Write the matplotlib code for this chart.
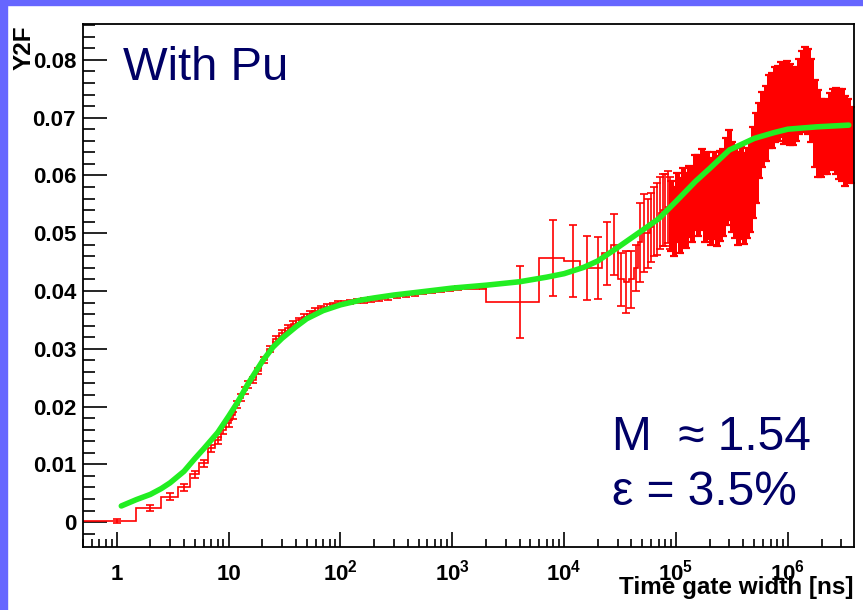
import matplotlib
matplotlib.use('Agg')
import numpy as np
from matplotlib import pyplot as plt
from matplotlib.patches import Rectangle
from matplotlib.ticker import FixedLocator, NullFormatter

plt.rcParams['font.family'] = ['Liberation Sans', 'DejaVu Sans']
plt.rcParams['mathtext.fontset'] = 'custom'
plt.rcParams['mathtext.rm'] = 'Liberation Sans'
plt.rcParams['mathtext.bf'] = 'Liberation Sans:bold'

# histogram bins: unit bins at short gates, wider further on
edges = [0.5, 1.5, 2.5, 3.5, 4.5, 5.5, 6.5, 7.5, 8.5, 9.5, 10.5, 11.5, 12.5, 13.5, 14.5, 15.5,
         17.5, 19.5, 22, 25, 28, 32, 36, 40, 45, 50, 56, 63, 71, 80, 90, 100, 115, 130, 150,
         175, 200, 240, 290, 350, 420, 500, 600, 720, 860, 1030, 1240, 1500, 1750, 2000,
         6000, 10000, 14000, 18000, 22000, 26000, 30000, 34000, 38000, 42000, 46000, 50000,
         54000, 58000, 62000, 66000, 70000, 74000, 78000, 82000, 86000, 90000]
y2f = [0.0002, 0.0025, 0.0044, 0.0060, 0.0083, 0.0102, 0.0128, 0.0142, 0.0159, 0.0171,
       0.0185, 0.0203, 0.0215, 0.0228, 0.0238,
       0.0246, 0.0261, 0.0281, 0.0300, 0.0317, 0.0327, 0.0336, 0.0343, 0.0349, 0.0355,
       0.0361, 0.0366, 0.0370, 0.0373, 0.0376, 0.0378, 0.0379, 0.0381, 0.0383, 0.0384,
       0.0385, 0.0387, 0.0389, 0.0391, 0.0393, 0.0395, 0.0397, 0.0399, 0.0401, 0.0403,
       0.0405, 0.0406, 0.0407, 0.0406,
       0.0381, 0.0457, 0.0452, 0.0440, 0.0440, 0.0465, 0.0480, 0.0420, 0.0416, 0.0420,
       0.0440, 0.0484, 0.0500, 0.0500, 0.0510, 0.0520, 0.0525, 0.0535, 0.0540, 0.0540,
       0.0545, 0.0535]
y2f_err = [0.0003, 0.0005, 0.0006, 0.0006, 0.0006, 0.0006, 0.0006, 0.0006, 0.0006, 0.0006,
           0.0006, 0.0006, 0.0006, 0.0006, 0.0006,
           0.0005, 0.0005, 0.0005, 0.0005, 0.0005, 0.0005, 0.0005, 0.0005, 0.0005, 0.0005,
           0.0005, 0.0004, 0.0004, 0.0004, 0.0004, 0.0004, 0.0004, 0.0004, 0.0004, 0.0004,
           0.0004, 0.0004, 0.0004, 0.0003, 0.0003, 0.0003, 0.0003, 0.0003, 0.0003, 0.0003,
           0.0003, 0.0003, 0.0003, 0.0003,
           0.0062, 0.0066, 0.0063, 0.0055, 0.0054, 0.0055, 0.0053, 0.0046, 0.0054, 0.0050,
           0.0040, 0.0068, 0.0067, 0.0060, 0.0060, 0.0060, 0.0062, 0.0062, 0.0062, 0.0062,
           0.0062, 0.0062]

# long gates: dense bins, big errors
long_t = [0.90e5, 0.96e5, 1.02e5, 1.09e5, 1.16e5, 1.23e5, 1.31e5, 1.40e5, 1.49e5, 1.58e5,
          1.69e5, 1.80e5, 1.91e5, 2.04e5, 2.17e5, 2.31e5, 2.46e5, 2.62e5, 2.79e5, 2.97e5,
          3.16e5, 3.37e5, 3.59e5, 3.82e5, 4.07e5, 4.33e5, 4.61e5, 4.91e5, 5.23e5, 5.57e5,
          5.93e5, 6.32e5, 6.73e5, 7.16e5, 7.63e5, 8.12e5, 8.65e5, 9.21e5, 9.81e5, 1.04e6,
          1.11e6, 1.19e6, 1.26e6, 1.34e6, 1.43e6, 1.52e6, 1.62e6, 1.73e6, 1.84e6, 1.96e6,
          2.09e6, 2.22e6, 2.37e6, 2.52e6, 2.68e6, 2.86e6, 3.04e6, 3.24e6, 3.45e6, 3.67e6]
long_y = [0.0530, 0.0520, 0.0545, 0.0530, 0.0545, 0.0540, 0.0555, 0.0550, 0.0570, 0.0565,
          0.0575, 0.0560, 0.0565, 0.0555, 0.0565, 0.0555, 0.0565, 0.0570, 0.0590, 0.0600,
          0.0580, 0.0570, 0.0560, 0.0570, 0.0560, 0.0570, 0.0580, 0.0605, 0.0630, 0.0660,
          0.0680, 0.0690, 0.0710, 0.0712, 0.0722, 0.0725, 0.0732, 0.0725, 0.0728, 0.0722,
          0.0720, 0.0722, 0.0737, 0.0745, 0.0750, 0.0745, 0.0730, 0.0690, 0.0672, 0.0665,
          0.0668, 0.0665, 0.0678, 0.0680, 0.0677, 0.0672, 0.0670, 0.0660, 0.0660, 0.0653]
long_err = [0.0060, 0.0060, 0.0060, 0.0065, 0.0068, 0.0065, 0.0062, 0.0065, 0.0065, 0.0070,
            0.0070, 0.0075, 0.0075, 0.0075, 0.0075, 0.0078, 0.0078, 0.0075, 0.0075, 0.0078,
            0.0078, 0.0078, 0.0080, 0.0080, 0.0078, 0.0078, 0.0078, 0.0078, 0.0078, 0.0065,
            0.0065, 0.0065, 0.0063, 0.0065, 0.0065, 0.0065, 0.0065, 0.0070, 0.0070, 0.0070,
            0.0068, 0.0063, 0.0065, 0.0070, 0.0073, 0.0073, 0.0072, 0.0075, 0.0075, 0.0068,
            0.0065, 0.0063, 0.0065, 0.0070, 0.0075, 0.0078, 0.0080, 0.0078, 0.0072, 0.0066]

# fitted curve
fit_t = [1.1, 1.5, 2, 2.5, 3, 4, 5, 6, 8, 10, 12, 15, 20, 25, 30, 40, 50, 70, 100, 150, 200,
         300, 500, 1000, 2000, 4000, 7000, 10000, 15000, 20000, 30000, 50000, 70000, 100000,
         150000, 200000, 300000, 500000, 750000, 1000000, 1800000, 3500000]
fit_y = [0.0028, 0.0039, 0.0048, 0.0058, 0.0068, 0.0088, 0.0110, 0.0127, 0.0155, 0.0183,
         0.0207, 0.0240, 0.0278, 0.0303, 0.0318, 0.0338, 0.0352, 0.0366, 0.0376, 0.0384,
         0.0388, 0.0393, 0.0398, 0.0405, 0.0410, 0.0416, 0.0424, 0.0430, 0.0441, 0.0452,
         0.0475, 0.0505, 0.0525, 0.0555, 0.0590, 0.0612, 0.0644, 0.0664, 0.0674, 0.0680,
         0.0684, 0.0687]

xtick_pos = [1, 10, 100, 1000, 10000, 100000, 1000000]
xtick_lab = ['1', '10', r'$\mathbf{10^{2}}$', r'$\mathbf{10^{3}}$', r'$\mathbf{10^{4}}$',
             r'$\mathbf{10^{5}}$', r'$\mathbf{10^{6}}$']

W, H = 863, 610
fig = plt.figure(figsize=(W / 100, H / 100), dpi=100)
fig.patches.append(Rectangle((0, 1 - 5 / H), 1, 5 / H, transform=fig.transFigure,
                             color='#6666ff', zorder=0))
fig.patches.append(Rectangle((0, 0), 7 / W, 1, transform=fig.transFigure,
                             color='#6666ff', zorder=0))

ax = fig.add_axes([83 / W, 1 - 547 / H, (854 - 83) / W, (547 - 24) / H])
ax.set_xscale('log')

red = '#ff0000'
ax.stairs(y2f, edges, baseline=None, color=red, lw=1.2, zorder=2)
centers = [(edges[i] + edges[i + 1]) / 2 for i in range(len(y2f))]
ax.errorbar(centers, y2f, yerr=y2f_err, fmt='none', ecolor=red, elinewidth=1.2,
            capsize=3, capthick=1.2, zorder=2)

ax.step(long_t, long_y, where='mid', color=red, lw=2.5, zorder=2)
ax.errorbar(long_t, long_y, yerr=long_err, fmt='none', ecolor=red, elinewidth=3.6,
            capsize=3, capthick=1.6, zorder=2)

ax.plot(fit_t, fit_y, color='#22ee22', lw=4, solid_capstyle='round', zorder=3)

ax.set_xlim(0.5, 3.9e6)
ax.set_ylim(-0.0043, 0.0862)

for s in ax.spines.values():
    s.set_linewidth(1.3)

ax.set_yticks([0, 0.01, 0.02, 0.03, 0.04, 0.05, 0.06, 0.07, 0.08])
ax.set_yticklabels(['0', '0.01', '0.02', '0.03', '0.04', '0.05', '0.06', '0.07', '0.08'],
                   fontsize=16, fontweight='bold')
ax.yaxis.set_minor_locator(FixedLocator([-0.002 + 0.002 * i for i in range(45)]))
ax.tick_params(axis='y', which='major', direction='in', length=17, width=1.2, pad=5)
ax.tick_params(axis='y', which='minor', direction='in', length=8.5, width=1.2)

ax.xaxis.set_major_locator(FixedLocator(xtick_pos))
ax.xaxis.set_minor_locator(FixedLocator([m * 10.0 ** e for e in range(-1, 7) for m in range(2, 10)]))
ax.xaxis.set_major_formatter(NullFormatter())
ax.xaxis.set_minor_formatter(NullFormatter())
ax.tick_params(axis='x', which='major', direction='in', length=11, width=1.2)
ax.tick_params(axis='x', which='minor', direction='in', length=5.8, width=1.2)
ax.tick_params(top=False, right=False)

for p, lab in zip(xtick_pos, xtick_lab):
    ax.text(p, -33 / 523, lab, transform=ax.get_xaxis_transform(), ha='center',
            va='baseline', fontsize=16, fontweight='bold')

fig.text(853 / W, 1 - 594 / H, 'Time gate width [ns]', ha='right', va='baseline',
         fontsize=17.5, fontweight='bold')
fig.text(24 / W, 1 - 25 / H, 'Y2F', rotation=90, ha='center', va='top',
         fontsize=17.5, fontweight='bold')

navy = '#000066'
fig.text(123 / W, 1 - 80 / H, 'With Pu', fontsize=34, color=navy, va='baseline')
fig.text(612 / W, 1 - 450 / H, 'M  \u2248 1.54', fontsize=34.5, color=navy, va='baseline')
fig.text(612 / W, 1 - 505 / H, '\u03b5 = 3.5%', fontsize=34.5, color=navy, va='baseline')

fig.savefig('out.png', dpi=100)
